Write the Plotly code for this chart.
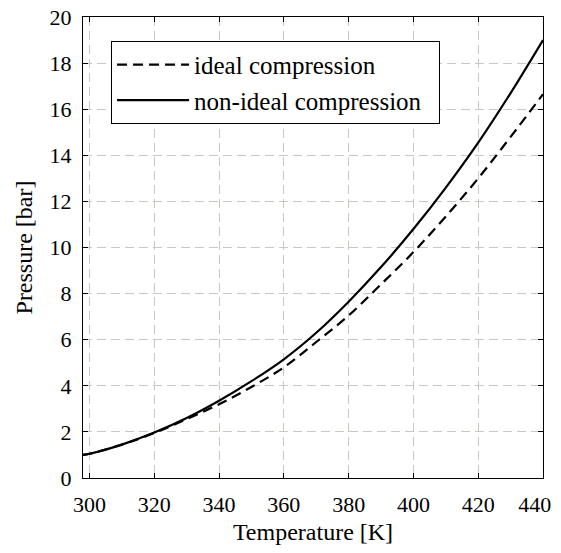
import plotly.graph_objects as go

# temperature [K] and pressure [bar]
temperature = [298, 300, 310, 320, 330, 340, 350, 360, 370, 380, 390, 400, 410, 420, 430, 440]
p_ideal = [1.0, 1.05, 1.45, 1.95, 2.55, 3.2, 3.95, 4.8, 5.9, 7.05, 8.4, 9.8, 11.35, 13.0, 14.8, 16.65]
p_nonideal = [1.0, 1.05, 1.45, 1.97, 2.6, 3.35, 4.2, 5.15, 6.3, 7.65, 9.15, 10.8, 12.6, 14.55, 16.7, 19.0]

x_ticks = [300, 320, 340, 360, 380, 400, 420, 440]
# last label padded so it is not clipped at the right edge of the page
x_tick_text = ['300', '320', '340', '360', '380', '400', '420', '440\u00a0\u00a0\u00a0']
y_ticks = [0, 2, 4, 6, 8, 10, 12, 14, 16, 18, 20]

font = 'Liberation Serif, Times New Roman, serif'
grid_col = '#c8c8c0'

fig = go.Figure()
fig.add_trace(go.Scatter(
  x = temperature, y = p_ideal, mode = 'lines', name = 'ideal compression',
  line = dict(color = 'black', width = 2.2, dash = '10px,6px', shape = 'spline'),
))
fig.add_trace(go.Scatter(
  x = temperature, y = p_nonideal, mode = 'lines', name = 'non-ideal compression\u00a0\u00a0',
  line = dict(color = 'black', width = 2.2, shape = 'spline'),
))

axis_common = dict(
  showline = True, linecolor = 'black', linewidth = 1, mirror = 'ticks',
  ticks = 'inside', ticklen = 5, tickcolor = 'black',
  showgrid = True, gridcolor = grid_col, gridwidth = 1, griddash = '9px,5px',
  zeroline = False, tickfont = dict(size = 22, color = 'black'),
  automargin = False, ticklabeloverflow = 'allow',
)

# the page body has an 8px margin, so the figure is sized to fit the window
fig.update_layout(
  width = 545, height = 537,
  margin = dict(l = 75, r = 10, t = 9, b = 67),
  paper_bgcolor = 'white', plot_bgcolor = 'white',
  font = dict(family = font, size = 22, color = 'black'),
  xaxis = dict(range = [298, 440], tickvals = x_ticks, ticktext = x_tick_text,
               ticklabelstandoff = 7,
               title = dict(text = 'Temperature [K]', standoff = 9, font = dict(size = 24)),
               **axis_common),
  yaxis = dict(range = [0, 20], tickvals = y_ticks, ticklabelstandoff = 6,
               title = dict(text = 'Pressure [bar]', standoff = 10, font = dict(size = 24)),
               **axis_common),
  legend = dict(
    x = 0.061, y = 0.948, xanchor = 'left', yanchor = 'top',
    bgcolor = 'white', bordercolor = 'black', borderwidth = 1,
    font = dict(family = font, size = 25), tracegroupgap = 0, itemwidth = 72,
  ),
)

fig.write_html('out.html')
